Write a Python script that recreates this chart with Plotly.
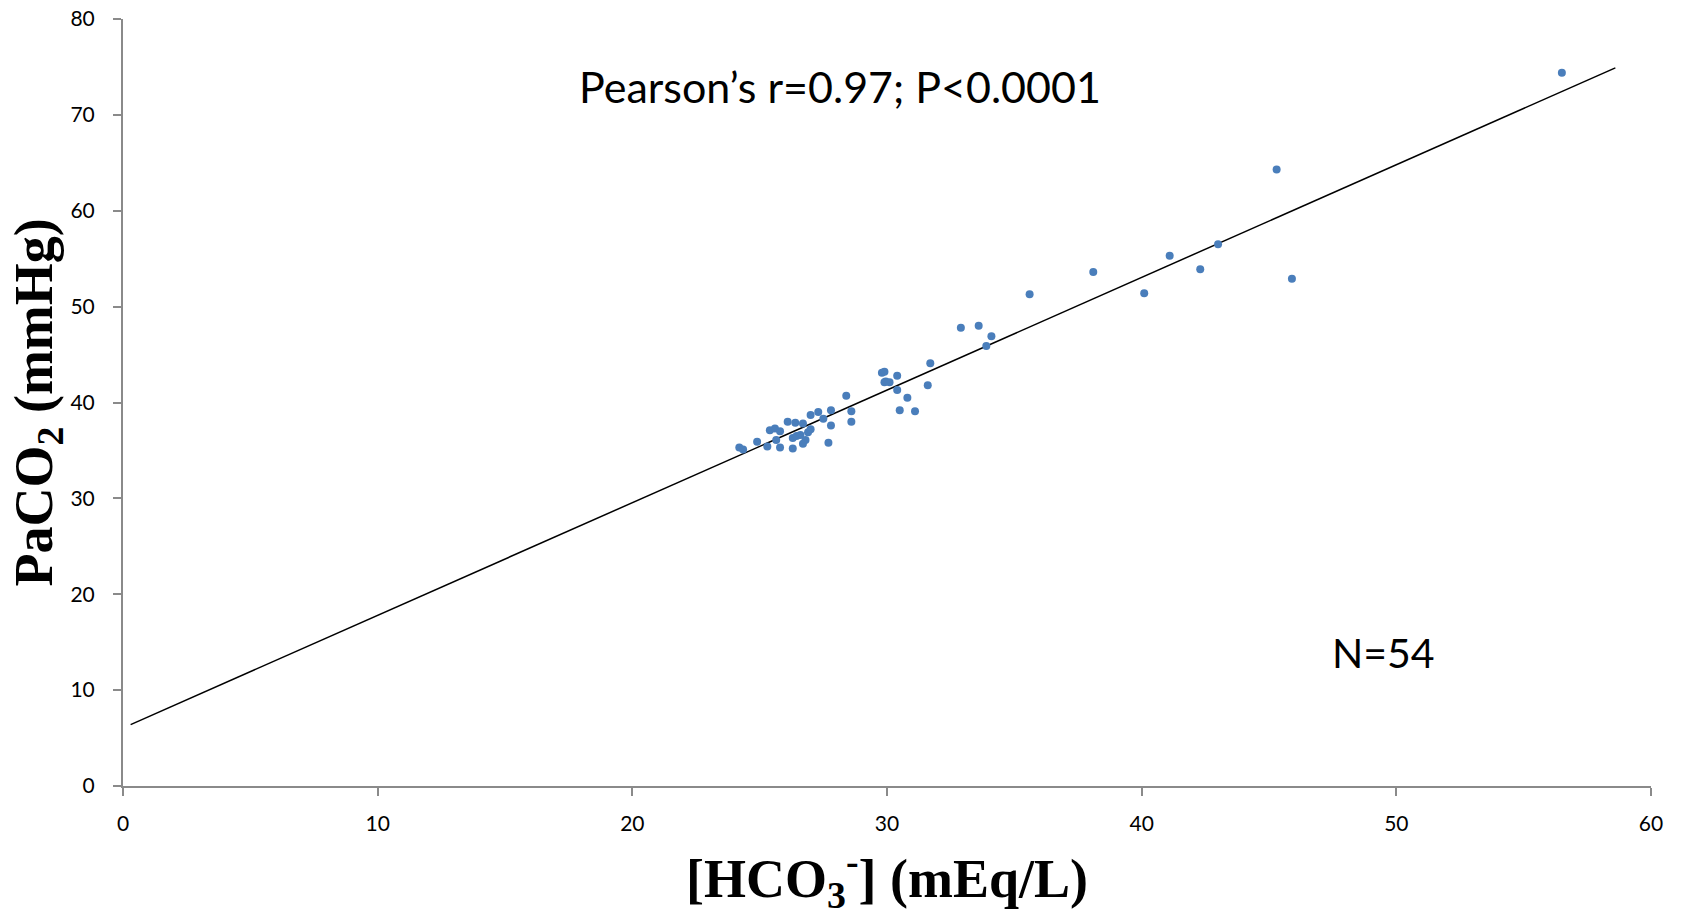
import plotly.graph_objects as go

# [HCO3-] (mEq/L) vs PaCO2 (mmHg)
hco3 = [24.2, 24.35, 24.9, 25.3, 25.4, 25.6, 25.8, 25.65, 25.8, 26.1,
        26.3, 26.3, 26.4, 26.6, 26.7, 26.8, 26.7, 26.9, 27.0, 27.0,
        27.3, 27.5, 27.7, 27.8, 27.8, 28.4, 28.6, 28.6, 29.8, 29.9,
        29.9, 30.1, 30.4, 30.4, 30.5, 30.8, 31.1, 31.6, 31.7, 33.9,
        34.1, 33.6, 32.9, 35.6, 38.1, 40.1, 41.1, 42.3, 43.0, 45.3,
        45.9, 56.5, 26.45, 29.95]
paco2 = [35.3, 35.1, 35.9, 35.4, 37.1, 37.3, 37.0, 36.1, 35.3, 38.0,
         36.3, 35.2, 37.9, 36.6, 37.8, 36.1, 35.7, 36.9, 37.2, 38.7,
         39.0, 38.3, 35.8, 39.2, 37.6, 40.7, 39.1, 38.0, 43.1, 43.2,
         42.1, 42.1, 42.8, 41.3, 39.2, 40.5, 39.1, 41.8, 44.1, 45.9,
         46.9, 48.0, 47.8, 51.3, 53.6, 51.4, 55.3, 53.9, 56.5, 64.3,
         52.9, 74.4, 36.5, 42.2]

# linear trend line as drawn in the figure
fit_slope = 1.175
fit_intercept = 6.05
fit_x = [0.3, 58.6]
fit_y = [fit_intercept + fit_slope * v for v in fit_x]

x_ticks = [0, 10, 20, 30, 40, 50, 60]
y_ticks = [0, 10, 20, 30, 40, 50, 60, 70, 80]

fig = go.Figure()
fig.add_trace(go.Scatter(x=fit_x, y=fit_y, mode="lines",
                         line=dict(color="black", width=1.5), showlegend=False))
fig.add_trace(go.Scatter(x=hco3, y=paco2, mode="markers",
                         marker=dict(color="#4a7ebb", size=8), showlegend=False))

axis_common = dict(
    showgrid=False, zeroline=False, showline=True,
    linecolor="#8a8a8a", linewidth=2,
    ticks="outside", ticklen=8, tickcolor="#8a8a8a", tickwidth=1.5,
    tickfont=dict(family="Lato", size=21, color="black"),
    ticklabeloverflow="allow", automargin=False,
)
fig.update_xaxes(range=[0, 60], tickvals=x_ticks, ticklabelstandoff=10, **axis_common)
fig.update_yaxes(range=[0, 80], tickvals=y_ticks, ticklabelstandoff=14, **axis_common)

fig.add_annotation(x=28.15, y=73.0, text="Pearson’s r=0.97; P<0.0001", showarrow=False,
                   font=dict(family="Lato", size=43, color="black"))
fig.add_annotation(x=49.5, y=13.9, text="N=54", showarrow=False,
                   font=dict(family="Lato", size=41, color="black"))

title_font = dict(family="Liberation Serif", size=54, color="black")
fig.add_annotation(xref="paper", yref="paper", x=0.5, y=0, yanchor="middle", yshift=-92,
                   text="<b>[HCO<sub>3</sub><sup>-</sup>] (mEq/L)</b>", showarrow=False,
                   font=title_font)
fig.add_annotation(xref="paper", yref="paper", x=0, y=0.5, xanchor="center", xshift=-86,
                   text="<b>PaCO<sub>2</sub> (mmHg)</b>", textangle=-90, showarrow=False,
                   font=title_font)

# page body adds an 8px margin, so the figure is sized to fit inside the window
fig.update_layout(
    width=1676, height=905,
    margin=dict(l=115, r=33, t=11, b=127),
    plot_bgcolor="white", paper_bgcolor="white",
)

fig.write_html("out.html")
